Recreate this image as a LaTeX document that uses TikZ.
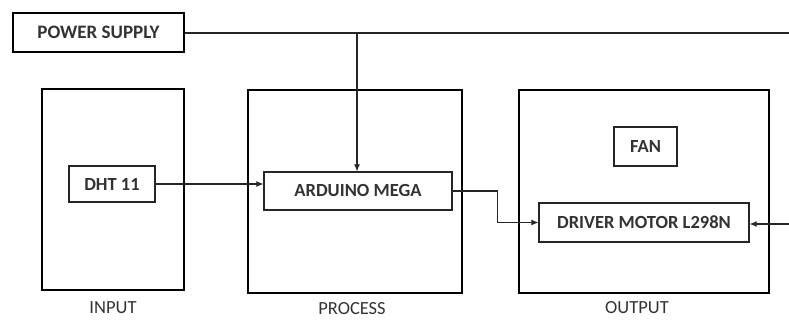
\documentclass[tikz,border=0pt]{standalone}
\usepackage{fontspec}
\setmainfont{Carlito}
\usetikzlibrary{arrows.meta,positioning}
\begin{document}
\begin{tikzpicture}[x=1pt,y=-1pt,
  thickbox/.style={draw,line width=2.8pt,rectangle,inner sep=0pt},
  thinbox/.style={draw=black!85,line width=1.1pt,rectangle,inner sep=0pt,font=\fontsize{18.5}{21}\selectfont\bfseries,text=black!80},
  caption/.style={font=\fontsize{18.5}{21}\selectfont,text=black!80,inner sep=0pt},
  conn/.style={draw=black!85,line width=1.1pt},
  arr/.style={conn,-{Latex[length=7pt,width=6pt]}}]
\useasboundingbox (0,0) rectangle (789,320);
% containers
\node[thickbox,minimum width=171pt,minimum height=39pt,font=\fontsize{19}{21}\selectfont\bfseries,text=black!80] (ps) at (98.5,32.5) {POWER SUPPLY};
\node[thickbox,minimum width=142pt,minimum height=201pt] (inbox) at (113,189.5) {};
\node[thickbox,minimum width=214pt,minimum height=203pt] (procbox) at (355,191.5) {};
\node[thickbox,minimum width=250pt,minimum height=203pt] (outbox) at (644,191.5) {};
% inner blocks
\node[thinbox,minimum width=86pt,minimum height=36pt] (dht) at (112,184) {DHT 11};
\node[thinbox,minimum width=188pt,minimum height=38pt] (ard) at (358,191) {ARDUINO MEGA};
\node[thinbox,minimum width=63pt,minimum height=39pt] (fan) at (645.5,146.5) {FAN};
\node[thinbox,minimum width=210pt,minimum height=39pt] (drv) at (644,222.5) {DRIVER MOTOR L298N};
% captions
\node[caption] (lin) at (113,308) {INPUT};
\node[caption] (lproc) at (352,309) {PROCESS};
\node[caption] (lout) at (637,308) {OUTPUT};
% connectors
\coordinate (psend) at (789,33);
\coordinate (tap) at (357,33);
\coordinate (rin) at (789,224);
\draw[conn] (ps.east |- psend) -- (psend);
\draw[arr] (tap) -- (tap |- ard.north);
\draw[arr] (dht.east) -- (dht.east -| ard.west);
\draw[arr] (ard.east) -- ++(45,0) |- (drv.west);
\draw[arr] (rin) -- (rin -| drv.east);
\end{tikzpicture}
\end{document}
